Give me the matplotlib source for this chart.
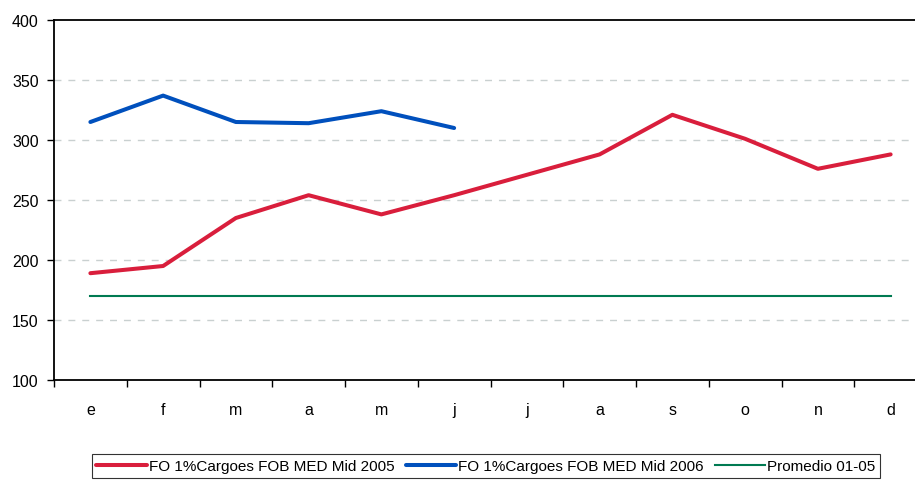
import numpy as np
import matplotlib.pyplot as plt
from matplotlib.ticker import FixedLocator

months = ["e", "f", "m", "a", "m", "j", "j", "a", "s", "o", "n", "d"]
fo_2005 = [189, 195, 235, 254, 238, 254, 271, 288, 321, 301, 276, 288]
fo_2006 = [315, 337, 315, 314, 324, 310]
promedio = [170] * 12

plt.rcParams['font.family'] = ['Liberation Sans', 'DejaVu Sans']

fig = plt.figure(figsize=(9.15, 4.81), dpi=100, facecolor='white')
# plot area runs past the right edge of the picture, as in the original
ax = fig.add_axes([54 / 915, 100 / 481, (927 - 54) / 915, 360 / 481])

x = np.arange(len(months))
ax.plot(x, fo_2005, color='#d91e3c', lw=2.9, solid_capstyle='round',
        label='FO 1%Cargoes FOB MED Mid 2005')
ax.plot(x[:len(fo_2006)], fo_2006, color='#0050bd', lw=2.9, solid_capstyle='round',
        label='FO 1%Cargoes FOB MED Mid 2006')
ax.plot(x, promedio, color='#007a52', lw=1.5, label='Promedio 01-05')

ax.set_xlim(-0.5, len(months) - 0.5)
ax.set_ylim(100, 400)
ax.set_yticks(range(100, 401, 50))
ax.set_xticks(x)
ax.set_xticklabels(months, fontsize=11.5)
ax.xaxis.set_minor_locator(FixedLocator(np.arange(-0.5, len(months), 1)))
ax.tick_params(axis='x', which='major', length=0, pad=16)
ax.tick_params(axis='x', which='minor', length=5, width=1, direction='out')
ax.tick_params(axis='y', length=5, width=1, direction='out', labelsize=11.5, pad=6)

for v in range(150, 400, 50):
    ax.axhline(v, color='#c9d0d0', lw=1, ls=(0, (5, 5)), zorder=0)

for s in ['left', 'bottom', 'top']:
    ax.spines[s].set_linewidth(1.3)
    ax.spines[s].set_color('black')
ax.spines['right'].set_visible(False)

leg = fig.legend(loc='center', bbox_to_anchor=(486 / 915, 14 / 481), ncol=3,
                 frameon=True, fancybox=False, edgecolor='black', fontsize=11,
                 handlelength=3.3, handletextpad=0.15, columnspacing=0.7,
                 borderpad=0.3, borderaxespad=0)
leg.get_frame().set_linewidth(0.8)

fig.savefig('out.png', dpi=100, facecolor='white')
